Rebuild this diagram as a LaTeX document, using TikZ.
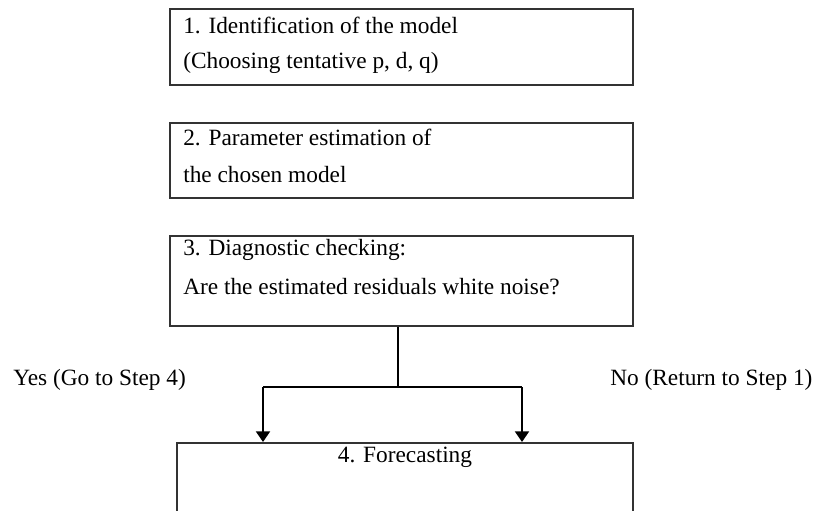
\documentclass[tikz,border=0pt]{standalone}
\usepackage{fontspec}
\setmainfont{Liberation Serif}
\usetikzlibrary{arrows.meta}
\tikzset{
  stagebox/.style={draw=black!80, line width=1.2pt, rectangle, minimum width=347.25pt, inner sep=0pt},
  stagetext/.style={anchor=west, inner sep=0pt, font=\fontsize{17.5}{21}\selectfont},
  flow/.style={line width=1.5pt},
  flowarrow/.style={line width=1.5pt, -{Triangle[width=10.5pt,length=8pt]}}
}
\begin{document}
\begin{tikzpicture}[x=0.75pt,y=-0.75pt]
\clip (0,0) rectangle (816,510);
\fill[white] (0,0) rectangle (816,510);

\node[stagebox, minimum height=57pt] (ident) at (401.5,47) {};
\node[stagetext] (identa) at (183,25) {1. Identification of the model};
\node[stagetext] (identb) at (183,63) {(Choosing tentative p, d, q)};

\node[stagebox, minimum height=56.25pt] (estim) at (401.5,160.5) {};
\node[stagetext] (estima) at (183,137) {2. Parameter estimation of};
\node[stagetext] (estimb) at (183,175) {the chosen model};

\node[stagebox, minimum height=67.5pt] (diag) at (401.5,281) {};
\node[stagetext] (diaga) at (183,250) {3. Diagnostic checking:};
\node[stagetext] (diagb) at (183,287) {Are the estimated residuals white noise?};

%-------------------------------------
\node[stagebox, minimum width=342pt, minimum height=90pt, anchor=north] (fore) at (405,442) {};
\node[stagetext, anchor=center] (forea) at (405,457) {4. Forecasting};

\node[stagetext] (yes) at (13,380) {Yes (Go to Step 4)};
\node[stagetext] (no) at (610,380) {No (Return to Step 1)};

\coordinate (split) at (398,387);
\coordinate (yesend) at (263,387);
\coordinate (noend) at (522,387);

\draw[flow] (diag.south -| split) -- (split);
\draw[flow] (yesend) -- (noend);
\draw[flowarrow] (yesend) -- (yesend |- fore.north);
\draw[flowarrow] (noend) -- (noend |- fore.north);

\end{tikzpicture}
\end{document}
